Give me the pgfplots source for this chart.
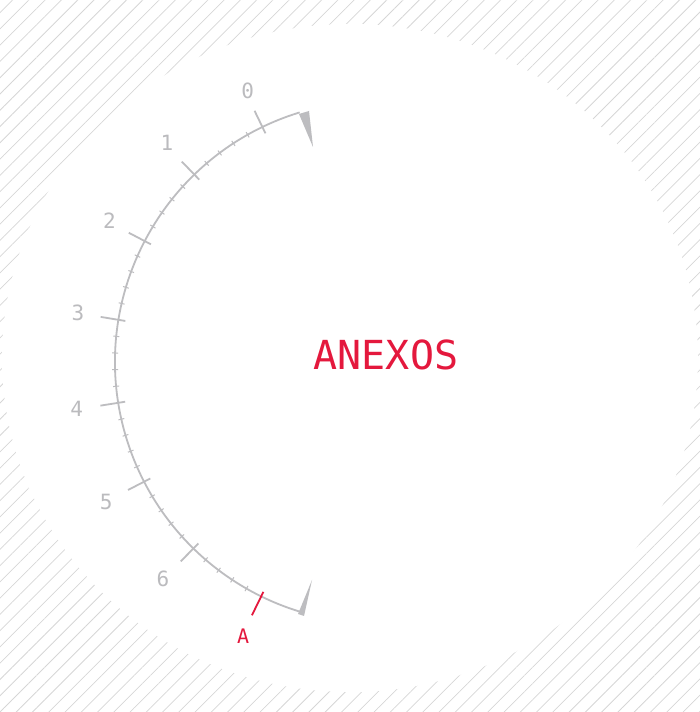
\documentclass[border=0pt]{standalone}
\usepackage{fontspec}
\usepackage{pgfplots}
\pgfplotsset{compat=1.18}
\usetikzlibrary{patterns.meta}
\newfontfamily\monofont{DejaVu Sans Mono}
\definecolor{hatch}{HTML}{D6D6D6}
\definecolor{tickgray}{HTML}{BDBDC0}
\definecolor{labelgray}{HTML}{BBBBBE}
\definecolor{accent}{HTML}{E4183D}

% gauge: centre at (0,0), radius 261, 1 unit = 1pt
\pgfplotstableread{
a      r
115.8  266.5
134.1  266.5
152.4  266.5
170.7  266.5
189.0  266.5
207.3  266.5
225.6  266.5
}\majorticks
\pgfplotstableread{
a      r
119.46 261
123.12 261
126.78 261
130.44 261
137.76 261
141.42 261
145.08 261
148.74 261
156.06 261
159.72 261
163.38 261
167.04 261
174.36 261
178.02 261
181.68 261
185.34 261
192.66 261
196.32 261
199.98 261
203.64 261
210.96 261
214.62 261
218.28 261
221.94 261
229.26 261
232.92 261
236.58 261
240.24 261
}\minorticks
\pgfplotstableread{
a      r    lab
115.3  300  0
133.6  303  1
152.0  302  2
170.6  302  3
188.8  303  4
207.4  304  5
225.5  304  6
}\ticklabels

\begin{document}
\begin{tikzpicture}
\begin{axis}[
  name=g,
  at={(0,0)}, anchor=south west,
  width=700pt, height=712pt,
  scale only axis,
  xmin=-376, xmax=324,
  ymin=-350, ymax=362,
  hide axis,
  clip=false,
  tick marks/.style={
    scatter, only marks, data cs=polar, mark=-,
    scatter/use mapped color={draw=tickgray, fill=tickgray},
    visualization depends on={\thisrow{a} \as \ang},
    scatter/@pre marker code/.append code={\pgftransformrotate{\ang}},
  },
]
  % background
  \fill[pattern={Lines[angle=45, distance=11.5pt, line width=0.75pt]}, pattern color=hatch]
    (axis cs:-376,-350) rectangle (axis cs:324,362);
  \fill[white] (axis cs:-26,4) ellipse [x radius=348pt, y radius=334pt];

  % scale arc with end pointers
  \draw[tickgray, line width=1.8pt] (axis cs:0,0) ++(107:261pt)
    arc[start angle=107, end angle=253, radius=261pt];
  \fill[tickgray] (axis cs:-77,248) -- (axis cs:-67,251) -- (axis cs:-63,215) -- cycle;
  \fill[tickgray] (axis cs:-78,-252) -- (axis cs:-72,-254) -- (axis cs:-64,-218) -- cycle;

  \addplot[tick marks, mark size=12.5pt, line width=1.8pt] table[x=a, y=r] {\majorticks};
  \addplot[tick marks, mark size=3pt, line width=1pt] table[x=a, y=r] {\minorticks};

  \addplot[only marks, mark=none, data cs=polar,
    nodes near coords, point meta=explicit symbolic,
    every node near coord/.style={anchor=center, inner sep=0pt,
      font=\monofont\fontsize{21}{21}\selectfont, text=labelgray},
  ] table[x=a, y=r, meta=lab] {\ticklabels};

  % marker A
  \addplot[accent, line width=1.8pt, data cs=polar] coordinates {(243.9,256) (243.9,282)};
  \addplot[only marks, mark=none, data cs=polar,
    nodes near coords, point meta=explicit symbolic,
    every node near coord/.style={anchor=center, inner sep=0pt,
      font=\monofont\fontsize{20}{20}\selectfont, text=accent},
  ] coordinates {(244.2,305) [A]};

  \node[accent, font=\monofont\fontsize{40}{40}\selectfont, inner sep=0pt]
    at (axis cs:10,7) {ANEXOS};
\end{axis}
\pgfresetboundingbox
\path (g.south west) rectangle (g.north east);
\end{tikzpicture}
\end{document}
